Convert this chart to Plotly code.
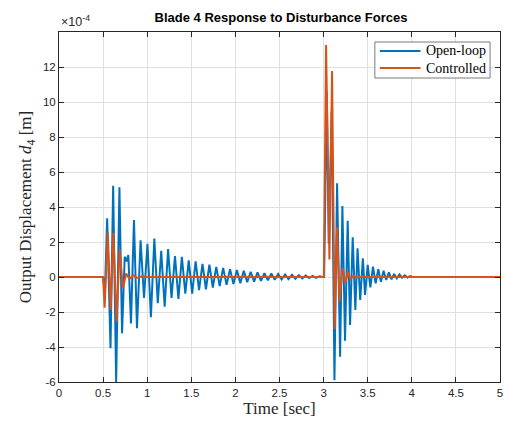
import numpy as np
import plotly.graph_objects as go

# Time stamps [sec] and displacement values (units of 1e-4 m) at the turning points
open_loop_t = [
    0.0, 0.5, 0.52, 0.546, 0.584, 0.614, 0.648, 0.685, 0.715, 0.745, 0.768, 0.786,
    0.816, 0.85, 0.884, 0.925, 0.964, 1.003, 1.042, 1.081, 1.12, 1.159, 1.198, 1.237,
    1.276, 1.315, 1.354, 1.393, 1.432, 1.471, 1.51, 1.549, 1.588, 1.627, 1.666, 1.705,
    1.744, 1.783, 1.822, 1.861, 1.9, 1.939, 1.978, 2.017, 2.056, 2.095, 2.134, 2.173,
    2.212, 2.251, 2.29, 2.329, 2.368, 2.407, 2.446, 2.485, 2.524, 2.563, 2.602, 2.641,
    2.68, 2.719, 2.758, 2.797, 2.836, 2.875, 2.914, 2.953, 2.99, 3.006,
    3.036, 3.058, 3.092, 3.123, 3.153, 3.187, 3.213, 3.243, 3.273, 3.3, 3.33, 3.36,
    3.385, 3.415, 3.445, 3.47, 3.5, 3.53, 3.56, 3.59, 3.62, 3.65, 3.68, 3.71, 3.74,
    3.77, 3.8, 3.83, 3.86, 3.89, 3.92, 3.95, 3.98, 4.01, 5.0,
]
open_loop_d = [
    0, 0, -1.0, 3.35, -4.07, 5.22, -6.0, 5.13, -3.22, 1.16, 0.9, 1.26,
    -2.65, 3.26, -2.93, 2.1, -1.2, 1.9, -2.3, 2.2, -1.5, 1.5, -1.7, 1.6,
    -1.2, 1.2, -1.25, 1.15, -0.95, 0.95, -0.95, 0.9, -0.75, 0.75, -0.7, 0.7,
    -0.6, 0.58, -0.52, 0.52, -0.45, 0.45, -0.4, 0.4, -0.35, 0.35, -0.3, 0.3,
    -0.26, 0.27, -0.22, 0.22, -0.19, 0.2, -0.16, 0.17, -0.14, 0.14, -0.12, 0.12,
    -0.1, 0.1, -0.08, 0.08, -0.06, 0.06, -0.05, 0.04, 0, 0,
    10.6, 1.9, 9.5, -5.9, 5.35, -4.55, 4.06, -3.64, 3.22, -2.74, 2.27, -1.89,
    1.64, -1.31, 1.07, -1.03, 0.69, -0.59, 0.59, -0.36, 0.44, -0.27, 0.36, -0.17, 0.27,
    -0.13, 0.17, -0.08, 0.15, -0.04, 0.1, -0.03, 0.05, 0, 0,
]

controlled_t = [
    0.0, 0.5, 0.517, 0.553, 0.586, 0.616, 0.652, 0.688, 0.724, 0.762, 0.8, 0.84,
    0.88, 0.93, 1.0, 3.003, 3.028, 3.066, 3.096, 3.125, 3.153, 3.18, 3.215, 3.245,
    3.275, 3.305, 3.34, 3.37, 3.4, 5.0,
]
controlled_d = [
    0, 0, -1.75, 2.55, -1.9, 2.53, -2.55, 1.56, -0.65, 0.2, -0.12, 0.12,
    -0.05, 0.03, 0, 0, 13.26, 1.0, 11.77, -2.98, 2.84, -1.4, 0.5, -0.36,
    0.3, -0.12, 0.08, -0.04, 0, 0,
]

series_names = ["Open-loop", "Controlled"]
y_ticks = [-6, -4, -2, 0, 2, 4, 6, 8, 10, 12]
x_ticks = [0, 0.5, 1, 1.5, 2, 2.5, 3, 3.5, 4, 4.5, 5]

SCALE = 1e-4
BLUE = "#0072BD"
ORANGE = "#D95319"
AX = "#262626"
GRID = "#e0e0e0"
SANS = "Liberation Sans, Arial, sans-serif"
SERIF = "Liberation Serif, Times New Roman, serif"

W, H = 510, 426
M_L, M_R, M_T, M_B = 59, 7, 32, 44
PW, PH = W - M_L - M_R, H - M_T - M_B


def px_x(x):
    """Pixel column -> paper x."""
    return (x - M_L) / PW


def px_y(y):
    """Pixel row -> paper y."""
    return (H - M_B - y) / PH


fig = go.Figure()
fig.add_trace(go.Scatter(
    x=open_loop_t, y=np.array(open_loop_d) * SCALE, mode="lines",
    name=series_names[0], line=dict(color=BLUE, width=2),
))
fig.add_trace(go.Scatter(
    x=controlled_t, y=np.array(controlled_d) * SCALE, mode="lines",
    name=series_names[1], line=dict(color=ORANGE, width=2),
))

axis_common = dict(
    showline=True, linecolor=AX, linewidth=1, mirror="ticks",
    ticks="inside", ticklen=5, tickcolor=AX, tickwidth=1,
    showgrid=True, gridcolor=GRID, gridwidth=1, zeroline=False,
    tickfont=dict(family=SANS, size=11.5, color=AX),
)

fig.update_layout(
    width=W, height=H,
    margin=dict(l=M_L, r=M_R, t=M_T, b=M_B),
    paper_bgcolor="white", plot_bgcolor="white",
    showlegend=False,
    title=dict(
        text="<b>Blade 4 Response to Disturbance Forces</b>",
        x=(M_L + W - M_R) / 2 / W, xanchor="center", y=1 - 17 / H, yanchor="middle",
        font=dict(family=SANS, size=13, color="black"),
    ),
    xaxis=dict(
        range=[0, 5], tickvals=x_ticks, ticktext=[f"{v:g}" for v in x_ticks],
        title=dict(text="Time [sec]", font=dict(family=SERIF, size=17, color=AX), standoff=4),
        **axis_common,
    ),
    yaxis=dict(
        range=[-6 * SCALE, 14 * SCALE],
        tickvals=[v * SCALE for v in y_ticks], ticktext=[str(v) for v in y_ticks],
        title=dict(text="Output Displacement <i>d</i><sub>4</sub> [m]",
                   font=dict(family=SERIF, size=17, color=AX), standoff=6),
        **axis_common,
    ),
)

# exponent label for the y axis
fig.add_annotation(
    text="×10<sup>-4</sup>", xref="paper", yref="paper", x=0, y=1,
    xanchor="left", yanchor="bottom", yshift=1, showarrow=False,
    font=dict(family=SANS, size=12.5, color=AX),
)

# legend box in the upper-right corner
fig.add_shape(
    type="rect", xref="paper", yref="paper",
    x0=px_x(377), x1=px_x(493), y0=px_y(78), y1=px_y(42),
    line=dict(color="#7a7a7a", width=1), fillcolor="white", layer="above",
)
for name, color, row in zip(series_names, [BLUE, ORANGE], [51, 68]):
    fig.add_shape(
        type="line", xref="paper", yref="paper",
        x0=px_x(382), x1=px_x(423), y0=px_y(row), y1=px_y(row),
        line=dict(color=color, width=2), layer="above",
    )
    fig.add_annotation(
        text=name, xref="paper", yref="paper", x=px_x(426), y=px_y(row),
        xanchor="left", yanchor="middle", showarrow=False,
        font=dict(family=SERIF, size=14, color="black"),
    )

fig.write_html("out.html")
